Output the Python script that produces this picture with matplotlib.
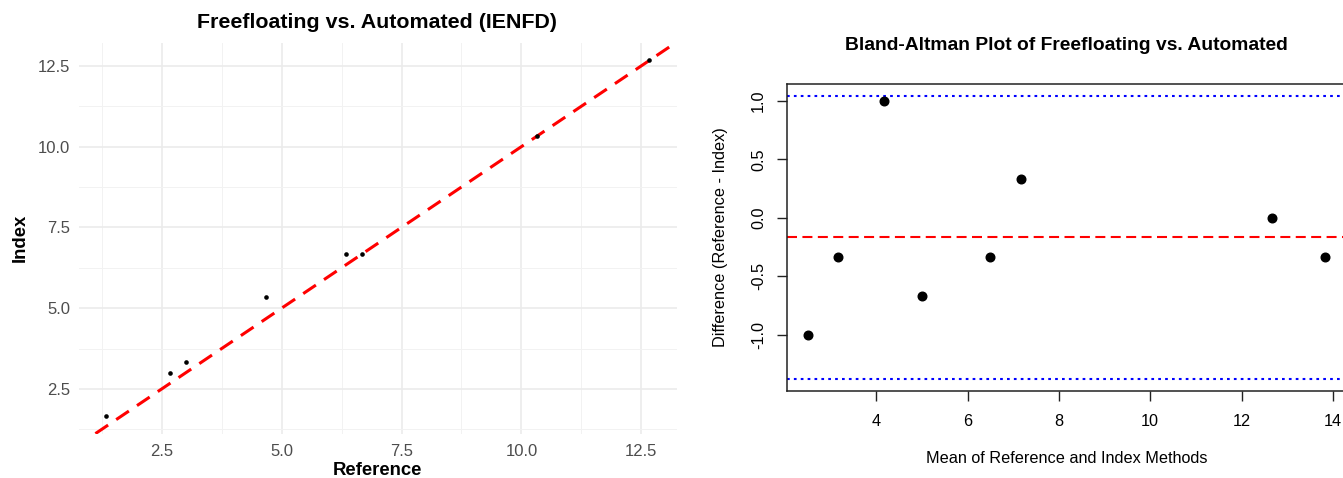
import numpy as np
import matplotlib
matplotlib.use("Agg")
import matplotlib.pyplot as plt

plt.rcParams['font.family'] = ['Liberation Sans', 'DejaVu Sans']

# left panel: reference vs index (IENFD)
reference = [1.333, 2.667, 3.0, 4.667, 6.333, 6.667, 10.333, 12.667]
index_vals = [1.667, 3.0, 3.333, 5.333, 6.667, 6.667, 10.333, 12.667]
left_ticks = [2.5, 5.0, 7.5, 10.0, 12.5]

# right panel: Bland-Altman
ba_mean = [2.5, 3.167, 4.167, 5.0, 6.5, 7.167, 12.667, 13.833]
ba_diff = [-1.0, -0.333, 1.0, -0.667, -0.333, 0.333, 0.0, -0.333]
ba_xticks = [4, 6, 8, 10, 12, 14]
ba_yticks = [-1.0, -0.5, 0.0, 0.5, 1.0]

W, H = 1343, 478
fig = plt.figure(figsize=(W / 100, H / 100), dpi=100)


def box(l, r, t, b):
    return [l / W, 1 - b / H, (r - l) / W, (b - t) / H]


# ---------- left: ggplot-ish theme_minimal ----------
ax1 = fig.add_axes(box(78.6, 676.5, 42.7, 433.6))
ref = np.array(reference)
idx = np.array(index_vals)
xr = ref.max() - ref.min()
yr = idx.max() - idx.min()
ax1.set_xlim(ref.min() - 0.05 * xr, ref.max() + 0.05 * xr)
ax1.set_ylim(idx.min() - 0.05 * yr, idx.max() + 0.05 * yr)

ax1.set_xticks(left_ticks)
ax1.set_yticks(left_ticks)
ax1.set_xticklabels([f"{v:.1f}" for v in left_ticks])
ax1.set_yticklabels([f"{v:.1f}" for v in left_ticks])
minor = [1.25, 3.75, 6.25, 8.75, 11.25]
ax1.set_xticks(minor, minor=True)
ax1.set_yticks(minor, minor=True)
ax1.grid(which='major', color='#EBEBEB', lw=1.2)
ax1.grid(which='minor', color='#F2F2F2', lw=0.7)
ax1.set_axisbelow(True)
for s in ax1.spines.values():
    s.set_visible(False)
ax1.tick_params(which='both', length=0)
ax1.tick_params(axis='x', pad=7.5, labelsize=12, labelcolor='#4D4D4D')
ax1.tick_params(axis='y', pad=6.2, labelsize=12, labelcolor='#4D4D4D')

ax1.axline((0, 0), slope=1, color='red', lw=2.2, dashes=(5, 3.2))
ax1.scatter(ref, idx, s=11, color='black', zorder=3, linewidths=0)

ax1.set_xlabel('Reference', fontsize=13.3, fontweight='bold')
ax1.set_ylabel('Index', fontsize=13.3, fontweight='bold')
ax1.xaxis.set_label_coords(0.5, -0.072)
ax1.yaxis.set_label_coords(-0.083, 0.5)
fig.text(377 / W, 1 - 22 / H, 'Freefloating vs. Automated (IENFD)',
         ha='center', va='center', fontsize=15.4, fontweight='bold')

# ---------- right: base-R style Bland-Altman ----------
ax2 = fig.add_axes(box(787, 1346, 84.3, 390.5))
m = np.array(ba_mean)
d = np.array(ba_diff)
mean_d = d.mean()
sd_d = d.std(ddof=1)
upper = mean_d + 1.96 * sd_d
lower = mean_d - 1.96 * sd_d

xr2 = m.max() - m.min()
ax2.set_xlim(m.min() - 0.04 * xr2, m.max() + 0.04 * xr2)
ylo, yhi = min(d.min(), lower), max(d.max(), upper)
ax2.set_ylim(ylo - 0.04 * (yhi - ylo), yhi + 0.04 * (yhi - ylo))

ax2.plot(m, d, 'o', color='black', ms=6.2, zorder=3)
ax2.axhline(mean_d, color='red', lw=1.5, dashes=(4.8, 2.6))
ax2.axhline(upper, color='blue', lw=1.5, dashes=(1.3, 2.0))
ax2.axhline(lower, color='blue', lw=1.5, dashes=(1.3, 2.0))

ax2.set_xticks(ba_xticks)
ax2.set_yticks(ba_yticks)
ax2.set_yticklabels([f"{v:.1f}" for v in ba_yticks])
for s in ax2.spines.values():
    s.set_linewidth(1.1)
    s.set_color('#222222')
ax2.tick_params(length=7.2, width=1.0, color='#222222', labelsize=11.7)
ax2.tick_params(axis='x', pad=10)
ax2.tick_params(axis='y', pad=8, labelrotation=90)
for lab in ax2.get_yticklabels():
    lab.set_va('center')

ax2.set_xlabel('Mean of Reference and Index Methods', fontsize=11.7)
ax2.set_ylabel('Difference (Reference - Index)', fontsize=11.7)
ax2.xaxis.set_label_coords(0.5, -0.198)
ax2.yaxis.set_label_coords(-0.105, 0.5)
fig.text(1066 / W, 1 - 46 / H, 'Bland-Altman Plot of Freefloating vs. Automated',
         ha='center', va='center', fontsize=13.9, fontweight='bold')

fig.savefig('out.png', dpi=100)
